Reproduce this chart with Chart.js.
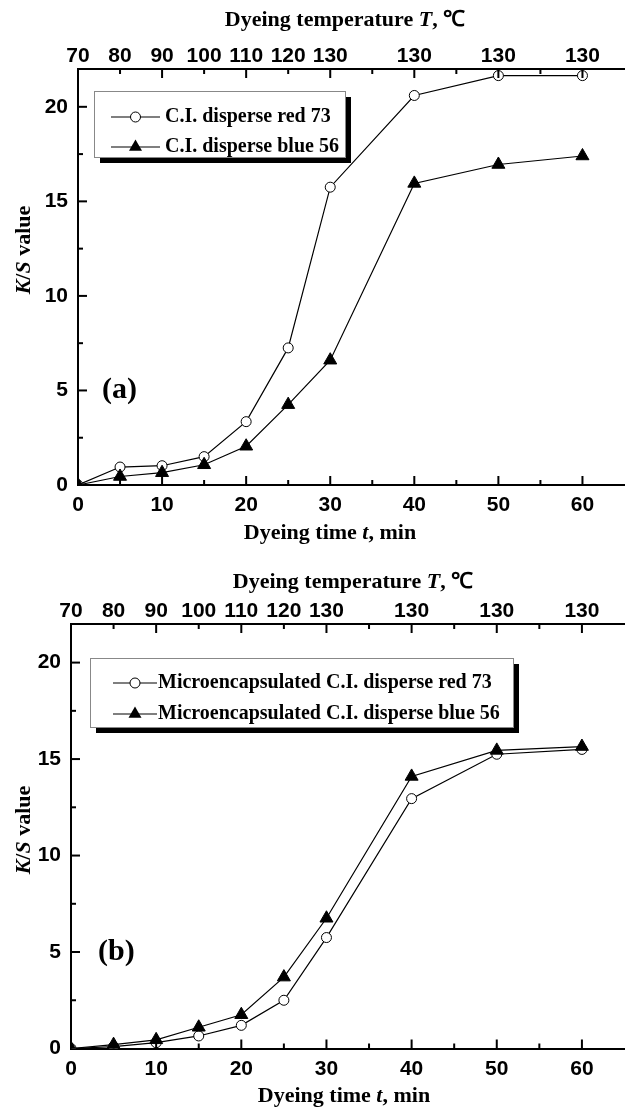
<!DOCTYPE html>
<html>
<head>
<meta charset="utf-8">
<script src="https://cdn.jsdelivr.net/npm/chart.js@4.4.1/dist/chart.umd.min.js"></script>
<style>
  body { margin: 0; background: #fff; }
  canvas { position: absolute; left: 0; }
</style>
</head>
<body>
<canvas id="chartA" width="633" height="556" style="top:0"></canvas>
<canvas id="chartB" width="633" height="555" style="top:556px"></canvas>
<script>
// dyeing time (min) and the temperature reached at that time
const timeMin = [0, 5, 10, 15, 20, 25, 30, 40, 50, 60];
const tempTicks = [0, 5, 10, 15, 20, 25, 30, 40, 50, 60];
const tempLabels = ['70', '80', '90', '100', '110', '120', '130', '130', '130', '130'];
const timeLabels = [0, 10, 20, 30, 40, 50, 60];
const ksLabels = [0, 5, 10, 15, 20];

// (a) plain dyes
const redA = [0, 0.95, 1.02, 1.5, 3.35, 7.25, 15.75, 20.6, 21.65, 21.65];
const blueA = [0, 0.45, 0.65, 1.07, 2.05, 4.25, 6.6, 15.95, 16.95, 17.4];
// (b) microencapsulated dyes
const redB = [0, 0.1, 0.3, 0.65, 1.2, 2.5, 5.75, 12.95, 15.25, 15.5];
const blueB = [0, 0.2, 0.45, 1.1, 1.75, 3.7, 6.75, 14.1, 15.45, 15.65];

const SERIF = '"Liberation Serif", "Times New Roman", serif';
const SANS = '"Liberation Sans", Arial, sans-serif';

function pts(vals) {
  return timeMin.map((t, i) => ({ x: t, y: vals[i] }));
}

// text made of several pieces with their own fonts (for italic symbols)
function richText(ctx, parts, x, y) {
  let w = 0;
  parts.forEach(p => { ctx.font = p.f; w += ctx.measureText(p.t).width; });
  let cx = x - w / 2;
  ctx.textAlign = 'left';
  ctx.textBaseline = 'middle';
  parts.forEach(p => {
    ctx.font = p.f;
    ctx.fillText(p.t, cx, y);
    cx += ctx.measureText(p.t).width;
  });
}

function marker(ctx, style, x, y) {
  ctx.save();
  ctx.lineWidth = 1;
  ctx.strokeStyle = '#000';
  ctx.beginPath();
  if (style === 'circle') {
    ctx.arc(x, y, 5, 0, Math.PI * 2);
    ctx.fillStyle = '#fff';
    ctx.fill();
    ctx.stroke();
  } else {
    const r = 7.5;
    ctx.moveTo(x, y - r);
    ctx.lineTo(x + r * 0.866, y + r * 0.5);
    ctx.lineTo(x - r * 0.866, y + r * 0.5);
    ctx.closePath();
    ctx.fillStyle = '#000';
    ctx.fill();
  }
  ctx.restore();
}

const decorations = {
  id: 'decorations',
  afterDraw(chart) {
    const ctx = chart.ctx;
    const o = chart.options.plugins.decorations;
    const x = chart.scales.x, y = chart.scales.y;
    const area = chart.chartArea;
    ctx.save();
    ctx.strokeStyle = '#000';
    ctx.lineWidth = 2;
    // inward tick marks
    x.ticks.forEach(t => {
      if (t.value % 5 !== 0 || t.value >= x.max) return;
      const px = x.getPixelForValue(t.value);
      const len = t.value % 10 === 0 ? 9 : 5;
      ctx.beginPath();
      ctx.moveTo(px, area.bottom); ctx.lineTo(px, area.bottom - len);
      ctx.moveTo(px, area.top); ctx.lineTo(px, area.top + len);
      ctx.stroke();
    });
    y.ticks.forEach(t => {
      if (t.value % 2.5 !== 0 || t.value >= y.max || t.value === 0) return;
      const py = y.getPixelForValue(t.value);
      const len = t.value % 5 === 0 ? 9 : 5;
      ctx.beginPath();
      ctx.moveTo(area.left, py); ctx.lineTo(area.left + len, py);
      ctx.stroke();
    });

    ctx.fillStyle = '#000';
    const f = 'bold 22px ' + SERIF, fi = 'italic bold 22px ' + SERIF;
    richText(ctx, [{ t: 'Dyeing temperature ', f }, { t: 'T', f: fi }, { t: ', \u2103', f }], o.topTitle[0], o.topTitle[1]);
    richText(ctx, [{ t: 'Dyeing time ', f }, { t: 't', f: fi }, { t: ', min', f }], o.bottomTitle[0], o.bottomTitle[1]);
    ctx.save();
    ctx.translate(o.yTitle[0], o.yTitle[1]);
    ctx.rotate(-Math.PI / 2);
    richText(ctx, [{ t: 'K', f: fi }, { t: '/', f }, { t: 'S', f: fi }, { t: ' value', f }], 0, 0);
    ctx.restore();

    // panel letter
    ctx.font = 'bold 30px ' + SERIF;
    ctx.textAlign = 'left';
    ctx.textBaseline = 'middle';
    ctx.fillText(o.panel, o.panelPos[0], y.getPixelForValue(5));

    // legend box with shadow
    const b = o.legend.box;
    ctx.fillStyle = '#000';
    ctx.fillRect(b[0] + 6, b[1] + 6, b[2], b[3]);
    ctx.fillStyle = '#fff';
    ctx.fillRect(b[0], b[1], b[2], b[3]);
    ctx.lineWidth = 1;
    ctx.strokeStyle = '#888';
    ctx.strokeRect(b[0] + 0.5, b[1] + 0.5, b[2], b[3]);
    o.legend.rows.forEach(r => {
      ctx.strokeStyle = '#000';
      ctx.lineWidth = 1.2;
      ctx.beginPath();
      ctx.moveTo(o.legend.line[0], r.y);
      ctx.lineTo(o.legend.line[1], r.y);
      ctx.stroke();
      marker(ctx, r.style, (o.legend.line[0] + o.legend.line[1]) / 2, r.y);
      ctx.fillStyle = '#000';
      ctx.font = 'bold 20px ' + SERIF;
      ctx.textAlign = 'left';
      ctx.textBaseline = 'middle';
      ctx.fillText(r.text, o.legend.textX, r.y);
    });
    ctx.restore();
  }
};

function makeChart(id, red, blue, geo, deco) {
  const tickFont = { family: SANS, size: 21, weight: 'bold' };
  return new Chart(document.getElementById(id), {
    type: 'line',
    data: {
      datasets: [
        {
          label: 'blue',
          data: pts(blue),
          borderColor: '#000',
          borderWidth: 1.2,
          pointStyle: 'triangle',
          pointRadius: 7.5,
          pointBackgroundColor: '#000',
          pointBorderColor: '#000',
          pointBorderWidth: 1
        },
        {
          label: 'red',
          data: pts(red),
          borderColor: '#000',
          borderWidth: 1.2,
          pointStyle: 'circle',
          pointRadius: 5,
          pointBackgroundColor: '#fff',
          pointBorderColor: '#000',
          pointBorderWidth: 1
        }
      ]
    },
    options: {
      responsive: false,
      animation: false,
      devicePixelRatio: 1,
      layout: { padding: { left: 0, right: 1, top: 0, bottom: 0 } },
      plugins: {
        legend: { display: false },
        tooltip: { enabled: false },
        decorations: deco
      },
      scales: {
        x: {
          type: 'linear',
          position: 'bottom',
          min: 0,
          max: 65,
          grid: { display: false, drawTicks: false },
          border: { display: true, color: '#000', width: 2 },
          ticks: {
            stepSize: 5,
            autoSkip: false,
            maxRotation: 0,
            padding: 8,
            color: '#000',
            font: tickFont,
            callback: v => timeLabels.includes(v) ? String(v) : ''
          },
          afterFit: s => { s.height = geo.bottomH; }
        },
        x2: {
          type: 'linear',
          position: 'top',
          min: 0,
          max: 65,
          grid: { display: false, drawTicks: false },
          border: { display: true, color: '#000', width: 2 },
          afterBuildTicks: s => { s.ticks = tempTicks.map(v => ({ value: v })); },
          ticks: {
            autoSkip: false,
            maxRotation: 0,
            padding: 0,
            color: '#000',
            font: tickFont,
            callback: (v, i) => tempLabels[i]
          },
          afterFit: s => { s.height = geo.topH; }
        },
        y: {
          min: 0,
          max: 22,
          grid: { display: false, drawTicks: false },
          border: { display: true, color: '#000', width: 2 },
          ticks: {
            stepSize: 2.5,
            padding: 10,
            color: '#000',
            font: tickFont,
            callback: v => ksLabels.includes(v) ? String(v) : ''
          },
          afterFit: s => { s.width = geo.leftW; }
        }
      }
    },
    plugins: [decorations]
  });
}

makeChart('chartA', redA, blueA,
  { leftW: 78, topH: 69, bottomH: 71 },
  {
    topTitle: [345, 20],
    bottomTitle: [330, 533],
    yTitle: [24, 250],
    panel: '(a)',
    panelPos: [102],
    legend: {
      box: [94, 91, 251, 66],
      line: [111, 160],
      textX: 165,
      rows: [
        { y: 117, style: 'circle', text: 'C.I. disperse red 73' },
        { y: 147, style: 'triangle', text: 'C.I. disperse blue 56' }
      ]
    }
  });

makeChart('chartB', redB, blueB,
  { leftW: 71, topH: 68, bottomH: 62.5 },
  {
    topTitle: [353, 26],
    bottomTitle: [344, 540],
    yTitle: [24, 274],
    panel: '(b)',
    panelPos: [98],
    legend: {
      box: [90, 102, 423, 69],
      line: [113, 157],
      textX: 158,
      rows: [
        { y: 127, style: 'circle', text: 'Microencapsulated C.I. disperse red 73' },
        { y: 158, style: 'triangle', text: 'Microencapsulated C.I. disperse blue 56' }
      ]
    }
  });
</script>
</body>
</html>
